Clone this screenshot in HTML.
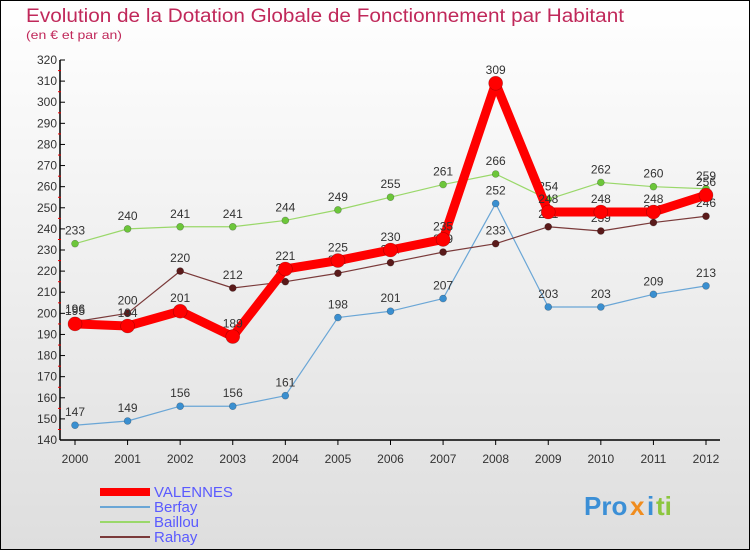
<!DOCTYPE html>
<html><head><meta charset="utf-8"><style>
html,body{margin:0;padding:0}
body{width:750px;height:550px;overflow:hidden;font-family:"Liberation Sans",sans-serif}
svg{display:block}
</style></head><body>
<svg id="chart" width="750" height="550" xmlns="http://www.w3.org/2000/svg">
<defs><linearGradient id="bg" x1="0" y1="0" x2="0" y2="1"><stop offset="0" stop-color="#ffffff"/><stop offset="1" stop-color="#dedede"/></linearGradient></defs>
<rect x="0.5" y="0.5" width="749" height="549" fill="url(#bg)" stroke="#000"/>
<text x="26" y="22" font-size="19" fill="#c0285a" textLength="598" lengthAdjust="spacingAndGlyphs">Evolution de la Dotation Globale de Fonctionnement par Habitant</text>
<text x="26" y="39" font-size="12" fill="#c0285a" textLength="96" lengthAdjust="spacingAndGlyphs">(en € et par an)</text>
<g id="axes"></g><g id="series"></g><g id="legend"></g>
<g font-size="26" font-weight="bold">
<text x="584" y="515" fill="#3b8fd6">Pro</text><text x="630" y="515" fill="#f08c1e">x</text><text x="647" y="515" fill="#3b8fd6">i</text><text x="656" y="515" fill="#8cc63e">ti</text>
</g>
</svg>
<script>
const years=["2000","2001","2002","2003","2004","2005","2006","2007","2008","2009","2010","2011","2012"];
const yTicks=[140,150,160,170,180,190,200,210,220,230,240,250,260,270,280,290,300,310,320];
const valennes=[195,194,201,189,221,225,230,235,309,248,248,248,256];
const berfay=[147,149,156,156,161,198,201,207,252,203,203,209,213];
const baillou=[233,240,241,241,244,249,255,261,266,254,262,260,259];
const rahay=[196,200,220,212,215,219,224,229,233,241,239,243,246];
const NS="http://www.w3.org/2000/svg";
function x(i){return 75+i*(706-75)/12;}
function y(v){return 440-(v-140)*(380/180);}
function mk(t,a,p){const e=document.createElementNS(NS,t);for(const k in a)e.setAttribute(k,a[k]);p.appendChild(e);return e;}
const axes=document.getElementById('axes');
const yl=mk('line',{x1:60,y1:60,x2:60,y2:440,stroke:'#000','stroke-width':1.5},axes);


const xl=mk('line',{x1:60,y1:440,x2:720,y2:440,stroke:'#000','stroke-width':1.5},axes);


yTicks.forEach(v=>{
  mk('line',{x1:60,y1:y(v),x2:65,y2:y(v),stroke:'#000'},axes);
  if(v<320) mk('line',{x1:58,y1:y(v)-10.5,x2:61,y2:y(v)-10.5,stroke:'#e00'},axes);
  const t=mk('text',{x:57,y:y(v)+4,'font-size':12,fill:'#333','text-anchor':'end'},axes);
  
  
  t.textContent=v;
});
years.forEach((yr,i)=>{
  mk('line',{x1:x(i),y1:440,x2:x(i),y2:445,stroke:'#000'},axes);
  const t=mk('text',{x:x(i),y:463,'font-size':12,fill:'#333','text-anchor':'middle'},axes);
  
  
  t.textContent=yr;
});
const sg=document.getElementById('series');
function draw(name,data,color,dot,w,r){
  const g=mk('g',{},sg);
  
  
  const l=mk('polyline',{points:data.map((v,i)=>x(i)+','+y(v)).join(' '),fill:'none',stroke:color,'stroke-width':w,'stroke-linejoin':'round'},g);
  
  
  data.forEach((v,i)=>{
    const c=mk('circle',{cx:x(i),cy:y(v),r:r,fill:dot,stroke:'rgba(0,0,0,0.3)','stroke-width':0.6},g);
    
    
    const t=mk('text',{x:x(i),y:y(v)-9,'font-size':12,fill:'#333','text-anchor':'middle'},g);
    
    
    t.textContent=v;
  });
}
draw('berfay',berfay,'#6aa6d6','#3a8fd0',1.2,3.5);
draw('baillou',baillou,'#9ad86a','#6cc63a',1.2,3.5);
draw('rahay',rahay,'#7a3a3a','#5a1a1a',1.2,3.5);
draw('valennes',valennes,'#f00','#f00',9,7);
const lg=document.getElementById('legend');
const items=[['VALENNES','#f00',8],['Berfay','#6aa6d6',2],['Baillou','#9ad86a',2],['Rahay','#7a3a3a',2]];
items.forEach((it,k)=>{
  const g=mk('g',{},lg);
  
  
  const yy=492+k*15;
  mk('line',{x1:100,y1:yy,x2:150,y2:yy,stroke:it[1],'stroke-width':it[2]},g);
  const t=mk('text',{x:154,y:yy+5,'font-size':15,fill:'#5a5aff'},g);
  t.textContent=it[0];
});
</script>
</body></html>
